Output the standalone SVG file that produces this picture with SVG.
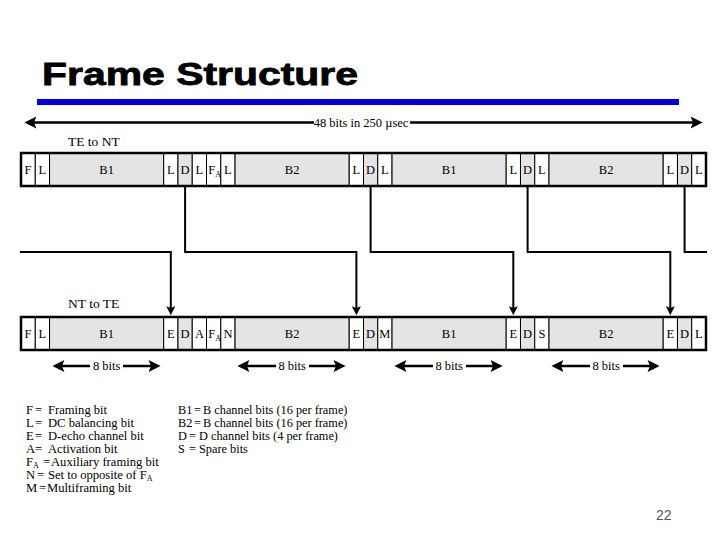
<svg xmlns="http://www.w3.org/2000/svg" width="720" height="540" viewBox="0 0 720 540">
<style>
.t{font-family:"Liberation Serif","Times New Roman",serif;font-size:12.5px;fill:#000}
.lg{font-family:"Liberation Serif","Times New Roman",serif;font-size:12.6px;fill:#000}
.lg2{font-family:"Liberation Serif","Times New Roman",serif;font-size:12.3px;fill:#000}
.c{text-anchor:middle}
.lbl{font-family:"Liberation Serif","Times New Roman",serif;font-size:13.5px;fill:#000}
.sh{fill:#e4e4e4;stroke:#000;stroke-width:1}
.wh{fill:#fff;stroke:#000;stroke-width:1}
.frame{fill:none;stroke:#000;stroke-width:2.5}
.con{fill:none;stroke:#000;stroke-width:2}
.dim{fill:none;stroke:#000;stroke-width:2.5}
.sub{font-size:8px}
</style>
<defs>
<marker id="ah" viewBox="0 0 10 10" refX="2" refY="5" markerWidth="10" markerHeight="9" markerUnits="userSpaceOnUse" orient="auto"><path d="M0,0 L10,5 L0,10 L2,5 z" fill="#000"/></marker>
<marker id="big" viewBox="0 0 10 10" refX="2" refY="5" markerWidth="14" markerHeight="12" markerUnits="userSpaceOnUse" orient="auto-start-reverse"><path d="M0,0 L10,5 L0,10 L2,5 z" fill="#000"/></marker>
</defs>
<rect width="720" height="540" fill="#fff"/>
<g id="title">
<text x="42" y="85" font-family="'Liberation Sans',Arial,sans-serif" font-weight="bold" font-size="31" stroke="#000" stroke-width="0.8" textLength="316" lengthAdjust="spacingAndGlyphs">Frame Structure</text>
<rect x="37" y="99" width="642" height="6" fill="#0000e0"/>
</g>
<g id="total">
<line x1="34" y1="122.5" x2="693" y2="122.5" class="dim" marker-start="url(#big)" marker-end="url(#big)"/>
<rect x="314" y="114" width="96" height="16" fill="#fff"/>
<text x="361" y="126.5" class="t c">48 bits in 250 µsec</text>
</g>
<g id="te-nt">
<text x="68" y="146" class="lbl">TE to NT</text>
<rect x="21" y="153" width="14.27" height="33" class="wh"/>
<rect x="35.27" y="153" width="14.27" height="33" class="wh"/>
<rect x="49.54" y="153" width="114.17" height="33" class="sh"/>
<rect x="163.71" y="153" width="14.27" height="33" class="wh"/>
<rect x="177.98" y="153" width="14.27" height="33" class="sh"/>
<rect x="192.25" y="153" width="14.27" height="33" class="wh"/>
<rect x="206.52" y="153" width="14.27" height="33" class="wh"/>
<rect x="220.79" y="153" width="14.27" height="33" class="wh"/>
<rect x="235.06" y="153" width="114.17" height="33" class="sh"/>
<rect x="349.23" y="153" width="14.27" height="33" class="wh"/>
<rect x="363.5" y="153" width="14.27" height="33" class="sh"/>
<rect x="377.77" y="153" width="14.27" height="33" class="wh"/>
<rect x="392.04" y="153" width="114.17" height="33" class="sh"/>
<rect x="506.21" y="153" width="14.27" height="33" class="wh"/>
<rect x="520.48" y="153" width="14.27" height="33" class="sh"/>
<rect x="534.75" y="153" width="14.27" height="33" class="wh"/>
<rect x="549.02" y="153" width="114.17" height="33" class="sh"/>
<rect x="663.19" y="153" width="14.27" height="33" class="wh"/>
<rect x="677.46" y="153" width="14.27" height="33" class="sh"/>
<rect x="691.73" y="153" width="14.27" height="33" class="wh"/>
<rect x="21" y="153" width="685" height="33" class="frame"/>
<text y="174" class="t c"><tspan x="28.1">F</tspan><tspan x="42.4">L</tspan><tspan x="106.6">B1</tspan><tspan x="170.8">L</tspan><tspan x="185.1">D</tspan><tspan x="199.4">L</tspan><tspan x="227.9">L</tspan><tspan x="292.1">B2</tspan><tspan x="356.4">L</tspan><tspan x="370.6">D</tspan><tspan x="384.9">L</tspan><tspan x="449.1">B1</tspan><tspan x="513.3">L</tspan><tspan x="527.6">D</tspan><tspan x="541.9">L</tspan><tspan x="606.1">B2</tspan><tspan x="670.3">L</tspan><tspan x="684.6">D</tspan><tspan x="698.9">L</tspan></text>
<text x="208.3" y="174" class="t">F<tspan class="sub" dy="3">A</tspan></text>
</g>
<g id="nt-te">
<text x="68" y="308" class="lbl">NT to TE</text>
<rect x="21" y="317" width="14.27" height="33" class="wh"/>
<rect x="35.27" y="317" width="14.27" height="33" class="wh"/>
<rect x="49.54" y="317" width="114.17" height="33" class="sh"/>
<rect x="163.71" y="317" width="14.27" height="33" class="wh"/>
<rect x="177.98" y="317" width="14.27" height="33" class="sh"/>
<rect x="192.25" y="317" width="14.27" height="33" class="wh"/>
<rect x="206.52" y="317" width="14.27" height="33" class="wh"/>
<rect x="220.79" y="317" width="14.27" height="33" class="wh"/>
<rect x="235.06" y="317" width="114.17" height="33" class="sh"/>
<rect x="349.23" y="317" width="14.27" height="33" class="wh"/>
<rect x="363.5" y="317" width="14.27" height="33" class="sh"/>
<rect x="377.77" y="317" width="14.27" height="33" class="wh"/>
<rect x="392.04" y="317" width="114.17" height="33" class="sh"/>
<rect x="506.21" y="317" width="14.27" height="33" class="wh"/>
<rect x="520.48" y="317" width="14.27" height="33" class="sh"/>
<rect x="534.75" y="317" width="14.27" height="33" class="wh"/>
<rect x="549.02" y="317" width="114.17" height="33" class="sh"/>
<rect x="663.19" y="317" width="14.27" height="33" class="wh"/>
<rect x="677.46" y="317" width="14.27" height="33" class="sh"/>
<rect x="691.73" y="317" width="14.27" height="33" class="wh"/>
<rect x="21" y="317" width="685" height="33" class="frame"/>
<text y="338" class="t c"><tspan x="28.1">F</tspan><tspan x="42.4">L</tspan><tspan x="106.6">B1</tspan><tspan x="170.8">E</tspan><tspan x="185.1">D</tspan><tspan x="199.4">A</tspan><tspan x="227.9">N</tspan><tspan x="292.1">B2</tspan><tspan x="356.4">E</tspan><tspan x="370.6">D</tspan><tspan x="384.9">M</tspan><tspan x="449.1">B1</tspan><tspan x="513.3">E</tspan><tspan x="527.6">D</tspan><tspan x="541.9">S</tspan><tspan x="606.1">B2</tspan><tspan x="670.3">E</tspan><tspan x="684.6">D</tspan><tspan x="698.9">L</tspan></text>
<text x="208.3" y="338" class="t">F<tspan class="sub" dy="3">A</tspan></text>
</g>
<g id="connectors">
<path d="M20,252 H170.8 V308" class="con" marker-end="url(#ah)"/>
<path d="M185.1,187 V252 H356.4 V308" class="con" marker-end="url(#ah)"/>
<path d="M370.6,187 V252 H513.3 V308" class="con" marker-end="url(#ah)"/>
<path d="M527.6,187 V252 H670.3 V308" class="con" marker-end="url(#ah)"/>
<path d="M684.6,187 V252 H707" class="con"/>
</g>
<g id="eight-bits">
<line x1="62" y1="366" x2="151" y2="366" class="dim" marker-start="url(#big)" marker-end="url(#big)"/>
<line x1="247" y1="366" x2="336" y2="366" class="dim" marker-start="url(#big)" marker-end="url(#big)"/>
<line x1="404" y1="366" x2="493" y2="366" class="dim" marker-start="url(#big)" marker-end="url(#big)"/>
<line x1="561" y1="366" x2="650" y2="366" class="dim" marker-start="url(#big)" marker-end="url(#big)"/>
<rect x="90" y="358" width="33" height="16" fill="#fff"/>
<rect x="276" y="358" width="33" height="16" fill="#fff"/>
<rect x="433" y="358" width="33" height="16" fill="#fff"/>
<rect x="590" y="358" width="33" height="16" fill="#fff"/>
<text x="106.6" y="370" class="t c">8 bits</text>
<text x="292.1" y="370" class="t c">8 bits</text>
<text x="449.1" y="370" class="t c">8 bits</text>
<text x="606.1" y="370" class="t c">8 bits</text>
</g>
<g id="legend">
<text x="26" y="414" class="lg">F</text><text x="35" y="414" class="lg">=</text><text x="48" y="414" class="lg">Framing bit</text>
<text x="26" y="427" class="lg">L</text><text x="35" y="427" class="lg">=</text><text x="48" y="427" class="lg">DC balancing bit</text>
<text x="26" y="440" class="lg">E</text><text x="35" y="440" class="lg">=</text><text x="48" y="440" class="lg">D-echo channel bit</text>
<text x="26" y="453" class="lg">A</text><text x="35" y="453" class="lg">=</text><text x="48" y="453" class="lg">Activation bit</text>
<text x="26" y="466" class="lg">F<tspan class="sub" dy="2">A</tspan></text><text x="43" y="466" class="lg">=</text><text x="51" y="466" class="lg">Auxiliary framing bit</text>
<text x="26" y="479" class="lg">N</text><text x="37" y="479" class="lg">=</text><text x="48" y="479" class="lg">Set to opposite of F<tspan class="sub" dy="2">A</tspan></text>
<text x="26" y="492" class="lg">M</text><text x="39" y="492" class="lg">=</text><text x="47" y="492" class="lg">Multiframing bit</text>
<text x="178" y="414" class="lg2">B1</text><text x="194" y="414" class="lg2">=</text><text x="203" y="414" class="lg2">B channel bits (16 per frame)</text>
<text x="178" y="427" class="lg2">B2</text><text x="194" y="427" class="lg2">=</text><text x="203" y="427" class="lg2">B channel bits (16 per frame)</text>
<text x="178" y="440" class="lg2">D</text><text x="189" y="440" class="lg2">=</text><text x="199" y="440" class="lg2">D channel bits (4 per frame)</text>
<text x="178" y="453" class="lg2">S</text><text x="189" y="453" class="lg2">=</text><text x="199" y="453" class="lg2">Spare bits</text>
</g>
<text x="656" y="520" font-family="'Liberation Sans',Arial,sans-serif" font-size="14" fill="#555">22</text>
</svg>
